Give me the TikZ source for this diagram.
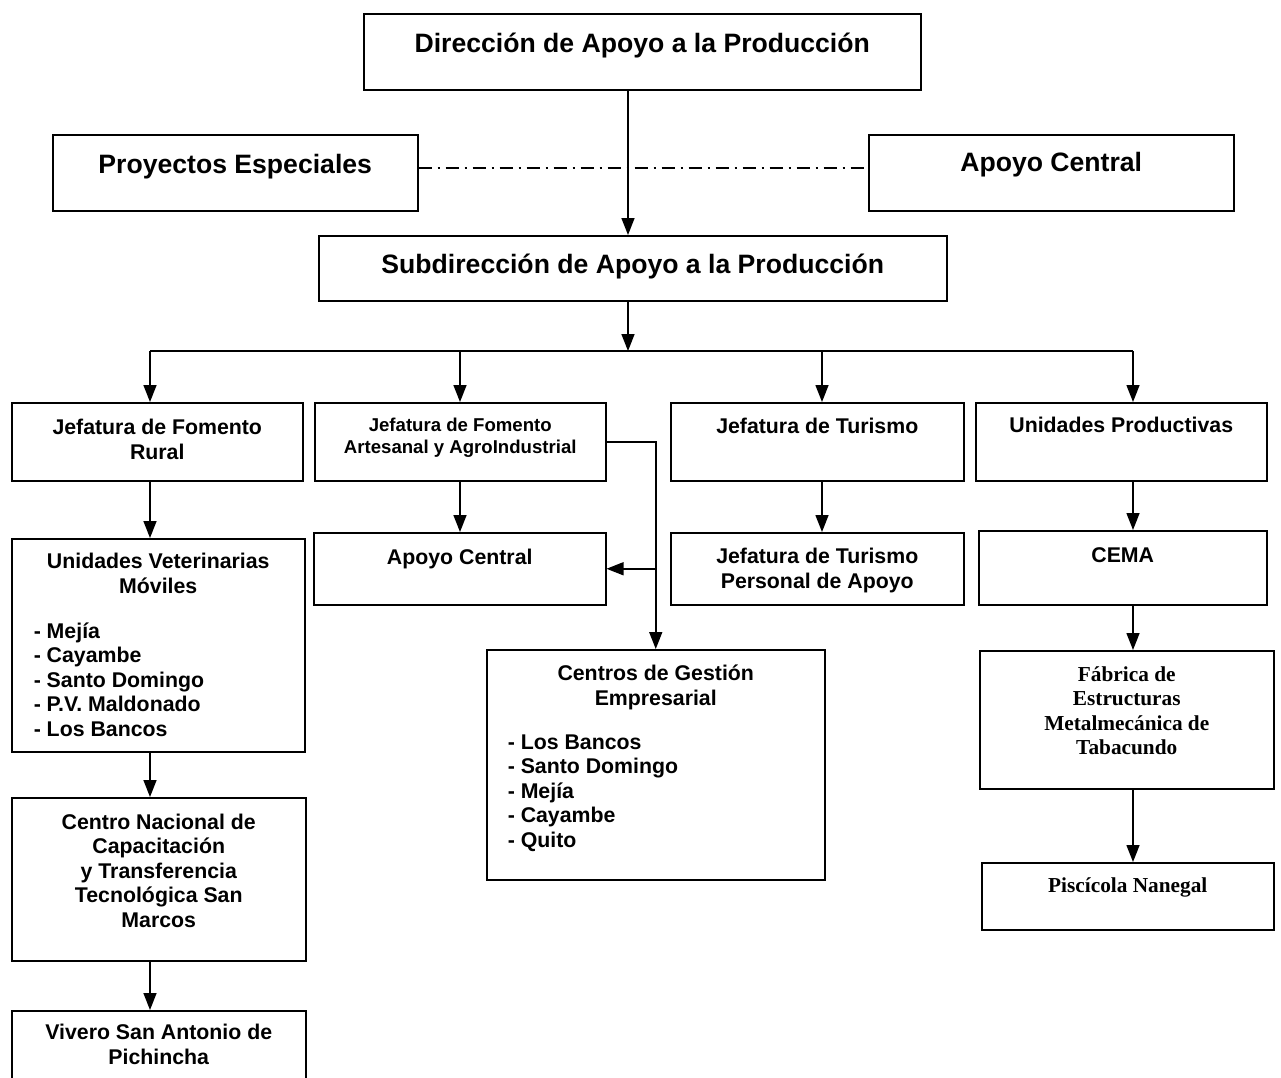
\documentclass[tikz,border=0pt]{standalone}
\usepackage{fontspec}
\setmainfont{Liberation Sans}
\newfontfamily\timesfont{Liberation Serif}
\usetikzlibrary{arrows.meta}

\tikzset{
  box/.style={draw, line width=1.5pt, anchor=north west, inner sep=0pt, align=center,
    font=\bfseries\fontsize{21.3}{24.5}\selectfont, text height=30.5pt, text depth=47.5pt},
  bigbox/.style={box, font=\bfseries\fontsize{26.6}{30}\selectfont, text height=38.5pt, text depth=37.5pt},
  smallbox/.style={box, font=\bfseries\fontsize{18.6}{22}\selectfont, text height=50.5pt, text depth=27.5pt},
  serifbox/.style={box, font=\timesfont\bfseries\fontsize{21.3}{24.5}\selectfont},
  link/.style={line width=1.5pt, -{Triangle[length=17pt,width=13pt]}},
  chain/.style={line width=1.5pt, dash pattern=on 13pt off 6pt on 2pt off 6pt},
}

\begin{document}
\begin{tikzpicture}[x=1pt,y=-1pt]
\useasboundingbox (0,0) rectangle (1281,1077);

% upper levels
\node[bigbox, minimum width=557pt] (dir) at (363,13) {Dirección de Apoyo a la Producción};
\node[bigbox, minimum width=365pt] (proy) at (52,134) {Proyectos Especiales};
\node[bigbox, minimum width=365pt, text height=36.5pt, text depth=39.5pt] (apc) at (868,134) {Apoyo Central};
\node[bigbox, minimum width=628pt, text height=37.5pt, text depth=27.5pt] (sub) at (318,235) {Subdirección de Apoyo a la Producción};

% jefaturas
\node[box, minimum width=291pt, text height=56.5pt, text depth=21.5pt] (rur) at (11,402) {Jefatura de Fomento\\Rural};
\node[smallbox, minimum width=291pt] (art) at (314,402) {Jefatura de Fomento\\Artesanal y AgroIndustrial};
\node[box, minimum width=293pt] (tur) at (670,402) {Jefatura de Turismo};
\node[box, minimum width=291pt, text height=29.5pt, text depth=48.5pt] (upr) at (975,402) {Unidades Productivas};

% column A
\node[box, minimum width=293pt, text height=197.5pt, text depth=15.5pt] (vet) at (11,538)
  {Unidades Veterinarias\\Móviles\\[20.5pt]
   \makebox[249pt][l]{- Mejía}\\\makebox[249pt][l]{- Cayambe}\\
   \makebox[249pt][l]{- Santo Domingo}\\\makebox[249pt][l]{- P.V. Maldonado}\\
   \makebox[249pt][l]{- Los Bancos}};
\node[box, minimum width=294pt, text height=129.5pt, text depth=33.5pt] (cna) at (11,797)
  {Centro Nacional de\\Capacitación\\y Transferencia\\Tecnológica San\\Marcos};
\node[box, minimum width=294pt, text height=53.5pt, text depth=31.5pt] (viv) at (11,1010) {Vivero San Antonio de\\Pichincha};

% column B
\node[box, minimum width=292pt, text height=31.5pt, text depth=40.5pt] (apm) at (313,532) {Apoyo Central};
\node[box, minimum width=338pt, text height=197.5pt, text depth=32.5pt] (cge) at (486,649)
  {Centros de Gestión\\Empresarial\\[19.5pt]
   \makebox[296pt][l]{- Los Bancos}\\\makebox[296pt][l]{- Santo Domingo}\\
   \makebox[296pt][l]{- Mejía}\\\makebox[296pt][l]{- Cayambe}\\
   \makebox[296pt][l]{- Quito}};

% columns C and D
\node[box, minimum width=293pt, text height=55.5pt, text depth=16.5pt] (tpa) at (670,532) {Jefatura de Turismo\\Personal de Apoyo};
\node[box, minimum width=288pt, text height=31.5pt, text depth=42.5pt] (cem) at (978,530) {CEMA};
\node[serifbox, minimum width=294pt, text height=104pt, text depth=34pt] (fab) at (979,650)
  {Fábrica de\\Estructuras\\Metalmecánica de\\Tabacundo};
\node[serifbox, minimum width=292pt, text height=30pt, text depth=37pt] (pis) at (981,862) {Piscícola Nanegal};

% connectors
\coordinate (bus) at (628,351);
\coordinate (colA) at (150,351);
\coordinate (colB) at (460,351);
\coordinate (colC) at (822,351);
\coordinate (colD) at (1133,351);

\draw[link] (dir.south -| bus) -- (sub.north -| bus);
\draw[chain] ([yshift=5pt]proy.east) -- ([yshift=5pt]apc.west);
\draw[link] (sub.south -| bus) -- (bus);
\draw[line width=1.5pt] (colA) -- (colD);
\foreach \c/\b in {colA/rur, colB/art, colC/tur, colD/upr}
  \draw[link] (\c) -- (\c |- \b.north);

\draw[link] (colA |- rur.south) -- (colA |- vet.north);
\draw[link] (colA |- vet.south) -- (colA |- cna.north);
\draw[link] (colA |- cna.south) -- (colA |- viv.north);
\draw[link] (colB |- art.south) -- (colB |- apm.north);
\draw[link] (art.east) -| (cge.north);
\draw[link] (apm.east -| cge.north) -- (apm.east);
\draw[link] (colC |- tur.south) -- (colC |- tpa.north);
\draw[link] (colD |- upr.south) -- (colD |- cem.north);
\draw[link] (colD |- cem.south) -- (colD |- fab.north);
\draw[link] (colD |- fab.south) -- (colD |- pis.north);
\end{tikzpicture}
\end{document}
